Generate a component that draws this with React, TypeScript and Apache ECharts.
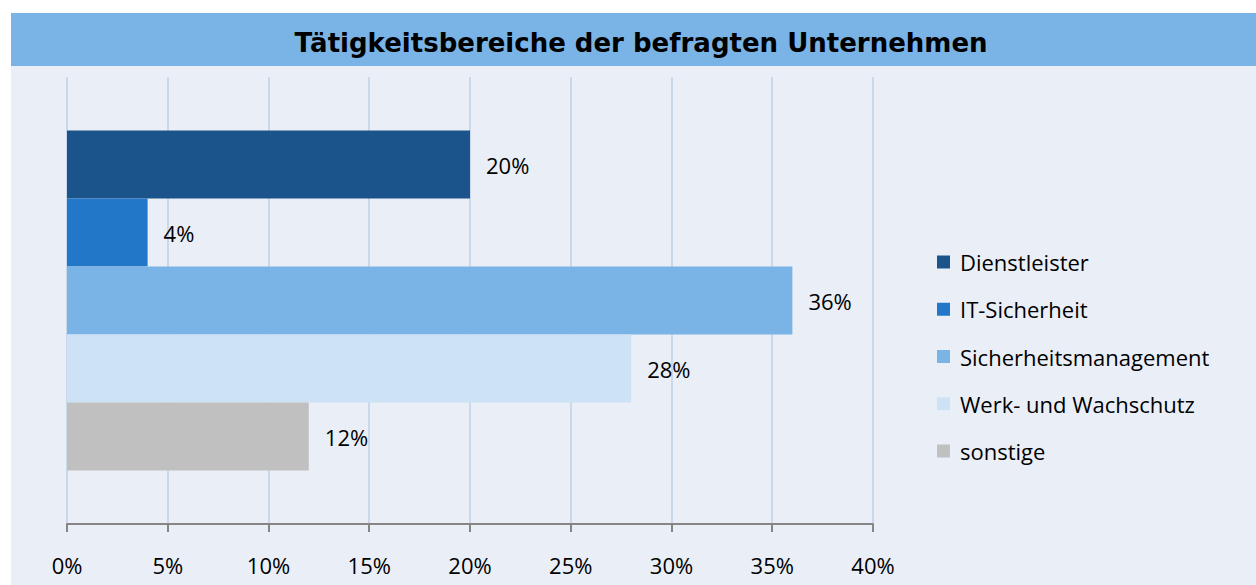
import React, { useEffect, useRef } from "react";
import * as echarts from "echarts";

const seriesNames = ["Dienstleister", "IT-Sicherheit", "Sicherheitsmanagement", "Werk- und Wachschutz", "sonstige"];
const seriesValues = [0.2, 0.04, 0.36, 0.28, 0.12];
const seriesColors = ["#1a548b", "#2277c8", "#7ab4e6", "#cde2f5", "#c0c0c0"];
const categories = ["Tätigkeitsbereiche"];
const titleText = "Tätigkeitsbereiche der befragten Unternehmen";

const FONT = "'Open Sans', Lato, sans-serif";

export default function App() {
  const ref = useRef<HTMLDivElement>(null);
  useEffect(() => {
    const chart = echarts.init(ref.current!, null, { renderer: "svg" });
    chart.setOption({
      animation: false,
      backgroundColor: "#ffffff",
      graphic: [
        { type: "rect", z: -10, silent: true, shape: { x: 11, y: 66, width: 1245, height: 519 }, style: { fill: "#eaeff7" } },
        { type: "rect", z: -10, silent: true, shape: { x: 11, y: 13, width: 1245, height: 53 }, style: { fill: "#7ab4e6" } },
        {
          type: "text", z: 10, x: 641, y: 43,
          style: { text: titleText, fill: "#000", font: "bold 26px 'DejaVu Sans', sans-serif", textAlign: "center", textVerticalAlign: "middle" },
        },
      ],
      legend: {
        orient: "vertical",
        left: 937,
        top: 251,
        padding: 0,
        itemWidth: 13,
        itemHeight: 13,
        itemGap: 25.25,
        icon: "rect",
        data: seriesNames,
        textStyle: { fontFamily: FONT, fontSize: 22, color: "#000", padding: [0, 0, 0, 5] },
      },
      grid: { left: 67, right: 383, top: 77, bottom: 61, containLabel: false },
      xAxis: {
        type: "value",
        min: 0,
        max: 0.4,
        interval: 0.05,
        axisLine: { show: true, lineStyle: { color: "#868686", width: 2 } },
        axisTick: { show: true, length: 8, lineStyle: { color: "#868686", width: 2 } },
        splitLine: { show: true, lineStyle: { color: "#c9d8ea", width: 2 } },
        axisLabel: {
          fontFamily: FONT, fontSize: 22, color: "#000", margin: 30,
          formatter: (v: number) => Math.round(v * 100) + "%",
        },
      },
      yAxis: {
        type: "category",
        data: categories,
        inverse: true,
        axisLine: { show: false },
        axisTick: { show: false },
        axisLabel: { show: false },
      },
      series: seriesNames.map((name, i) => ({
        name,
        type: "bar",
        data: [seriesValues[i]],
        barWidth: 68,
        barGap: "0%",
        itemStyle: { color: seriesColors[i] },
        label: {
          show: true,
          position: "right",
          distance: 16,
          fontFamily: FONT,
          fontSize: 22,
          color: "#000",
          formatter: (p: any) => Math.round(p.value * 100) + "%",
        },
      })),
    });
    return () => chart.dispose();
  }, []);
  return <div ref={ref} style={{ position: "absolute", left: 0, top: 0, width: 1256, height: 585 }} />;
}
